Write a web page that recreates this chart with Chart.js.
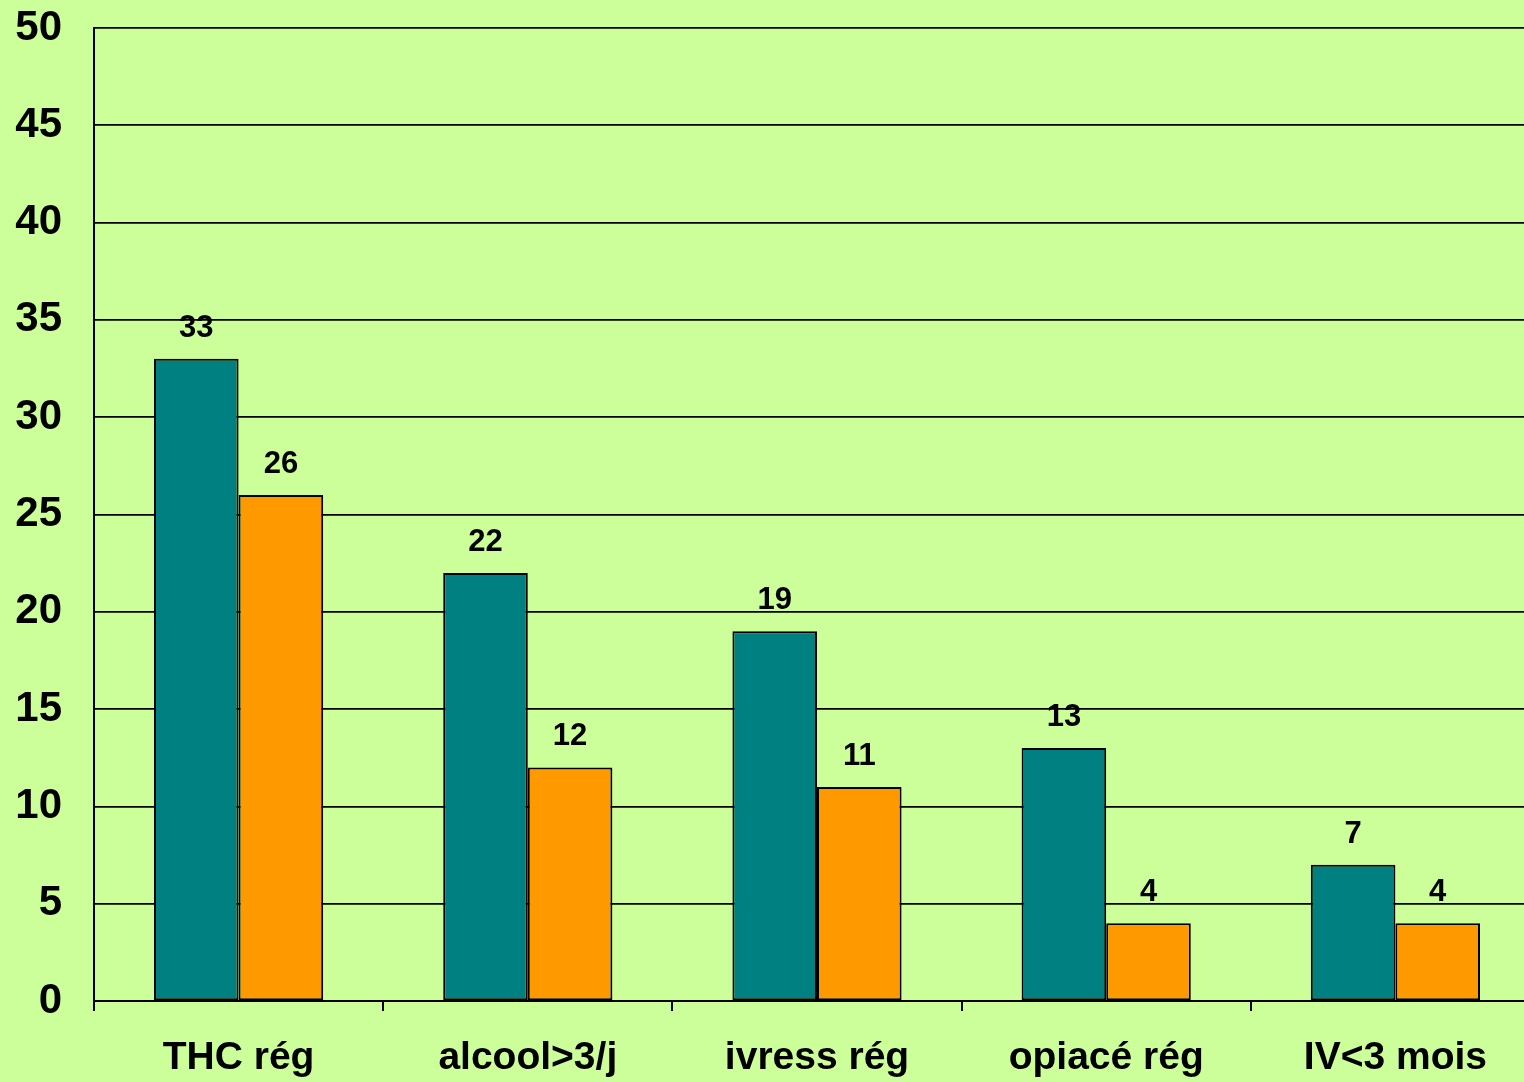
<!DOCTYPE html>
<html>
<head>
<meta charset="utf-8">
<script src="https://cdn.jsdelivr.net/npm/chart.js@4/dist/chart.umd.min.js"></script>
<style>
  html, body { margin: 0; padding: 0; background: #CCFF99; overflow: hidden; }
  #wrap { width: 1540px; height: 1082px; }
</style>
</head>
<body>
<div id="wrap"><canvas id="c" width="1540" height="1082"></canvas></div>
<script>
// Categories and the two series shown as paired bars
const categories = ['THC rég', 'alcool>3/j', 'ivress rég', 'opiacé rég', 'IV<3 mois'];
const seriesA = [33, 22, 19, 13, 7];
const seriesB = [26, 12, 11, 4, 4];
const yTicks = [0, 5, 10, 15, 20, 25, 30, 35, 40, 45, 50];

const FONT = '"Liberation Sans", Arial, sans-serif';

// Writes each bar's value above it
const valueLabels = {
  id: 'valueLabels',
  afterDatasetsDraw(chart) {
    const ctx = chart.ctx;
    ctx.save();
    ctx.font = 'bold 31px ' + FONT;
    ctx.fillStyle = '#000';
    ctx.textAlign = 'center';
    ctx.textBaseline = 'alphabetic';
    chart.data.datasets.forEach((ds, i) => {
      chart.getDatasetMeta(i).data.forEach((bar, j) => {
        ctx.fillText(String(ds.data[j]), bar.x, bar.y - 22);
      });
    });
    ctx.restore();
  }
};

new Chart(document.getElementById('c'), {
  type: 'bar',
  data: {
    labels: categories,
    datasets: [
      { data: seriesA, backgroundColor: '#008080', borderColor: '#000', borderWidth: 2, borderSkipped: false },
      { data: seriesB, backgroundColor: '#FF9900', borderColor: '#000', borderWidth: 2, borderSkipped: false }
    ]
  },
  options: {
    responsive: false,
    animation: false,
    layout: { padding: { top: 28, right: 0, bottom: 0, left: 0 } },
    plugins: { legend: { display: false }, tooltip: { enabled: false } },
    datasets: { bar: { categoryPercentage: 0.585, barPercentage: 1.0 } },
    scales: {
      x: {
        offset: true,
        grid: { offset: true, drawOnChartArea: false, drawTicks: true, tickLength: 10, color: '#000', lineWidth: 2 },
        border: { display: true, color: '#000', width: 2 },
        ticks: { color: '#000', font: { family: FONT, size: 39, weight: 'bold' }, padding: 24, maxRotation: 0 },
        afterFit(scale) { scale.height = 81; scale.paddingLeft = 0; scale.paddingRight = 0; }
      },
      y: {
        min: 0, max: 50,
        afterBuildTicks(scale) { scale.ticks = yTicks.map(v => ({ value: v })); },
        grid: { drawTicks: false, color: '#000', lineWidth: 1.7 },
        border: { display: true, color: '#000', width: 2 },
        ticks: { color: '#000', font: { family: FONT, size: 42, weight: 'bold' }, padding: 32 },
        afterFit(scale) { scale.width = 94; scale.paddingTop = 0; scale.paddingBottom = 0; }
      }
    }
  },
  plugins: [valueLabels]
});
</script>
</body>
</html>
